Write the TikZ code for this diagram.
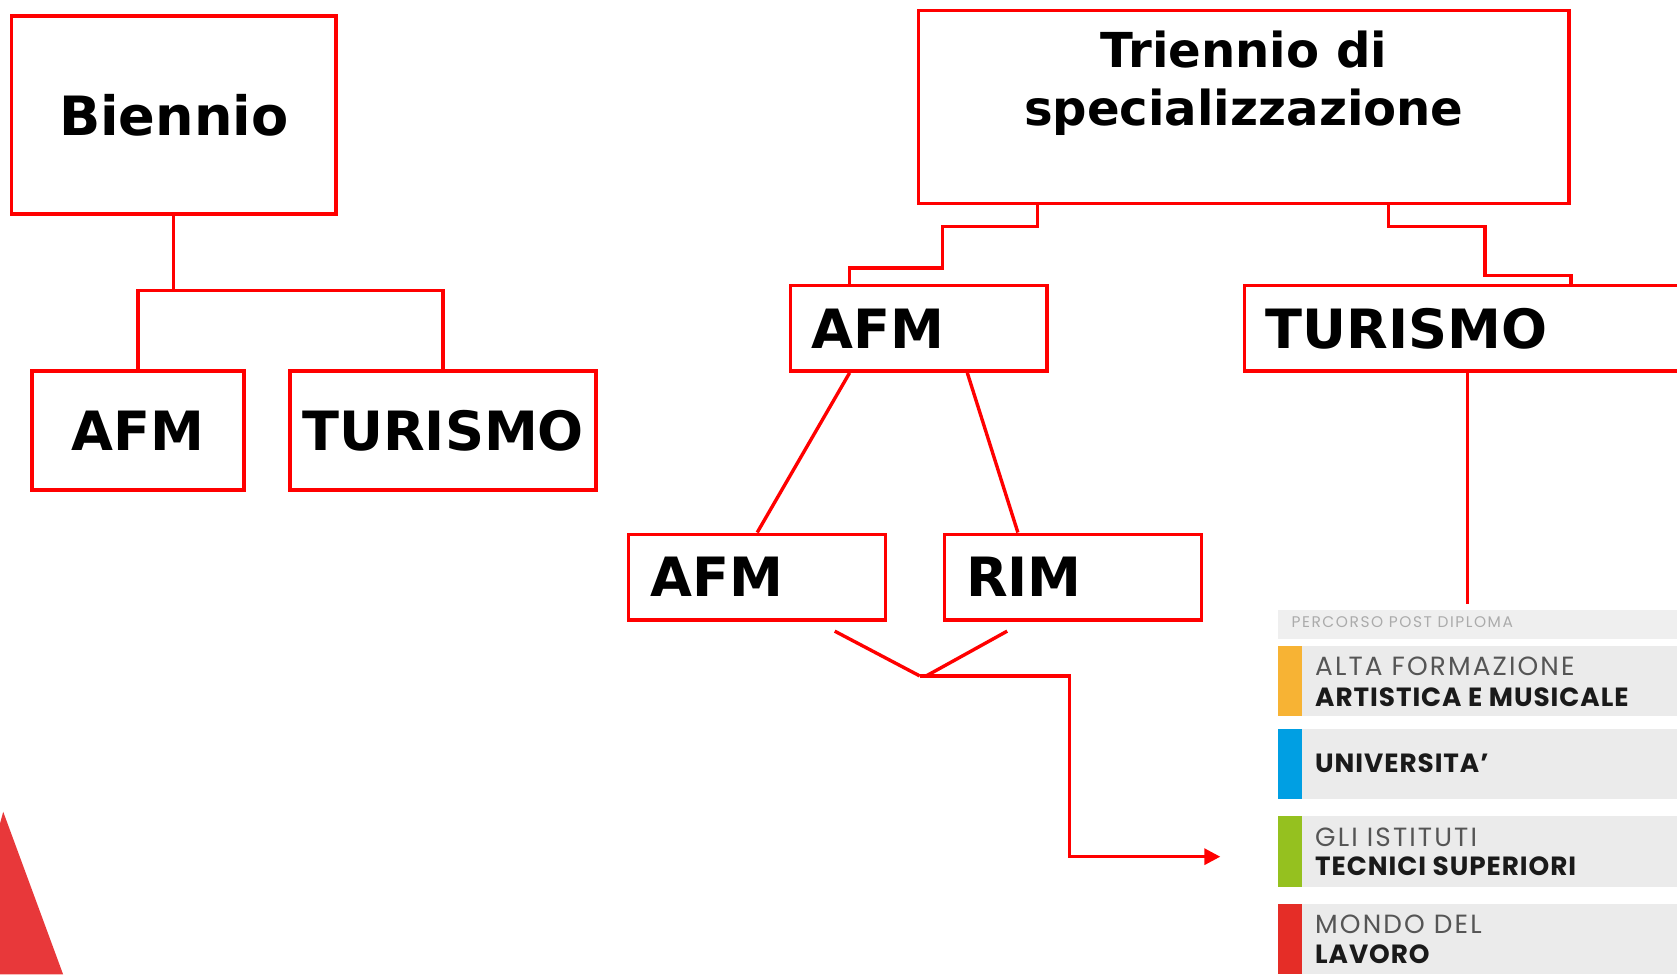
\documentclass[tikz,border=0pt]{standalone}
\usepackage{fontspec}
\usepackage{tikz}
\usetikzlibrary{arrows.meta, positioning}
\newfontfamily\boxfont{DejaVu Sans}
\newfontfamily\panelhead[LetterSpace=10]{Poppins}
\newfontfamily\panellight[LetterSpace=8]{Poppins}
\newfontfamily\panelbold[LetterSpace=3.6]{Poppins}
\definecolor{boxred}{HTML}{FF0000}
\definecolor{trired}{HTML}{E8383A}
\definecolor{bandgray}{HTML}{EBEBEB}
\definecolor{headgray}{HTML}{EFEFEF}
\definecolor{headtext}{HTML}{ABABAB}
\definecolor{lighttext}{HTML}{555555}
\definecolor{darktext}{HTML}{1A1A1A}
\definecolor{afamorange}{HTML}{F7B334}
\definecolor{unibleu}{HTML}{009FE3}
\definecolor{itsgreen}{HTML}{95C11F}
\definecolor{lavred}{HTML}{E52D27}

\begin{document}
\begin{tikzpicture}[x=0.01cm, y=-0.01cm,
    box/.style = {rectangle, draw=boxred, line width=0.9pt, inner sep=0pt,
                  font=\boxfont\bfseries\fontsize{14.4}{17}\selectfont},
    leftbox/.style = {box, text width=#1, align=left, inner xsep=0.2cm, minimum height=0.8cm},
    link/.style = {draw=boxred, line width=0.9pt},
    arrow/.style = {link, -{Triangle[length=0.15cm, width=0.15cm]}},
    bandlight/.style = {anchor=base west, inner sep=0pt, text=lighttext,
                        font=\panellight\fontsize{7}{8}\selectfont},
    bandbold/.style = {anchor=base west, inner sep=0pt, text=darktext,
                       font=\panelbold\bfseries\fontsize{7}{8}\selectfont}
]
\useasboundingbox (0,0) rectangle (1568,911);
\clip (0,0) rectangle (1568,911);

% Biennio
\node[box, minimum width=3.03cm, minimum height=1.85cm] (biennio) at (162.5,107.5) {Biennio};
\node[box, minimum width=1.98cm, minimum height=1.11cm] (bafm) at (129,402.5) {AFM};
\node[box, minimum width=2.86cm, minimum height=1.11cm, right=0.40cm of bafm] (btur) {TURISMO};

\draw[link] (biennio.south) -- ++(0,70) coordinate (bjoin);
\draw[link] (bafm.north) |- (bjoin) -| (btur.north);

% Triennio
\node[box, minimum width=6.08cm, minimum height=1.8cm, align=center, text depth=0.54cm,
      font=\boxfont\bfseries\fontsize{12.8}{15.4}\selectfont] (triennio) at (1163,100)
      {Triennio di\\specializzazione};
\node[leftbox=2.0cm] (tafm) at (859,307) {AFM};
\node[leftbox=4.2cm, anchor=west] (ttur) at (1162,307) {TURISMO};

\draw[link] ([xshift=1.13cm]triennio.south west) -- ++(0,20) -| ++(-89,39) -| ([xshift=0.57cm]tafm.north west);
\draw[link] ([xshift=4.41cm]triennio.south west) -- ++(0,20) -| ++(90,46) -| (triennio.south east |- ttur.north);

% Articolazioni AFM
\node[leftbox=2.0cm] (aafm) at (708,539.5) {AFM};
\node[leftbox=2.0cm, right=0.52cm of aafm] (rim) {RIM};

\draw[link] ([xshift=0.57cm]tafm.south west) -- (aafm.north);
\draw[link] ([xshift=1.67cm]tafm.south west) -- ([xshift=0.7cm]rim.north west);

% Verso il post diploma
\coordinate (merge) at (860,632);
\coordinate (postend) at (1141,801);
\draw[link] ([xshift=1.94cm, yshift=-0.09cm]aafm.south west) -- (merge);
\draw[link] ([xshift=0.6cm, yshift=-0.09cm]rim.south west) -- ([xshift=0.06cm]merge);
\draw[arrow] (merge) -| (1000,801) -- (postend);
\draw[link] ([xshift=2.1cm]ttur.south west) -- ++(0,216);

% Percorso post diploma
\fill[headgray] (1195,570) rectangle (1568,597);
\node[anchor=base west, inner sep=0pt, text=headtext,
      font=\panelhead\fontsize{4.1}{5}\selectfont] (posthead) at (1207,587)
      {PERCORSO POST DIPLOMA};

\fill[afamorange] (1195,604) rectangle (1217,669);
\fill[bandgray] (1217,604) rectangle (1568,669);
\node[bandlight] (afam1) at (1229,632) {ALTA FORMAZIONE};
\node[bandbold] (afam2) at (1229,661) {ARTISTICA E MUSICALE};

\fill[unibleu] (1195,682) rectangle (1217,747);
\fill[bandgray] (1217,682) rectangle (1568,747);
\node[bandbold] (uni) at (1229,722) {UNIVERSITA’};

\fill[itsgreen] (1195,763) rectangle (1217,829);
\fill[bandgray] (1217,763) rectangle (1568,829);
\node[bandlight] (its1) at (1229,791) {GLI ISTITUTI};
\node[bandbold] (its2) at (1229,819) {TECNICI SUPERIORI};

\fill[lavred] (1195,845) rectangle (1217,911);
\fill[bandgray] (1217,845) rectangle (1568,911);
\node[bandlight] (lav1) at (1229,873) {MONDO DEL};
\node[bandbold] (lav2) at (1229,901) {LAVORO};

% Triangolo
\fill[trired] (0,770) -- (3,759) -- (59,911) -- (0,911) -- cycle;

\end{tikzpicture}
\end{document}
